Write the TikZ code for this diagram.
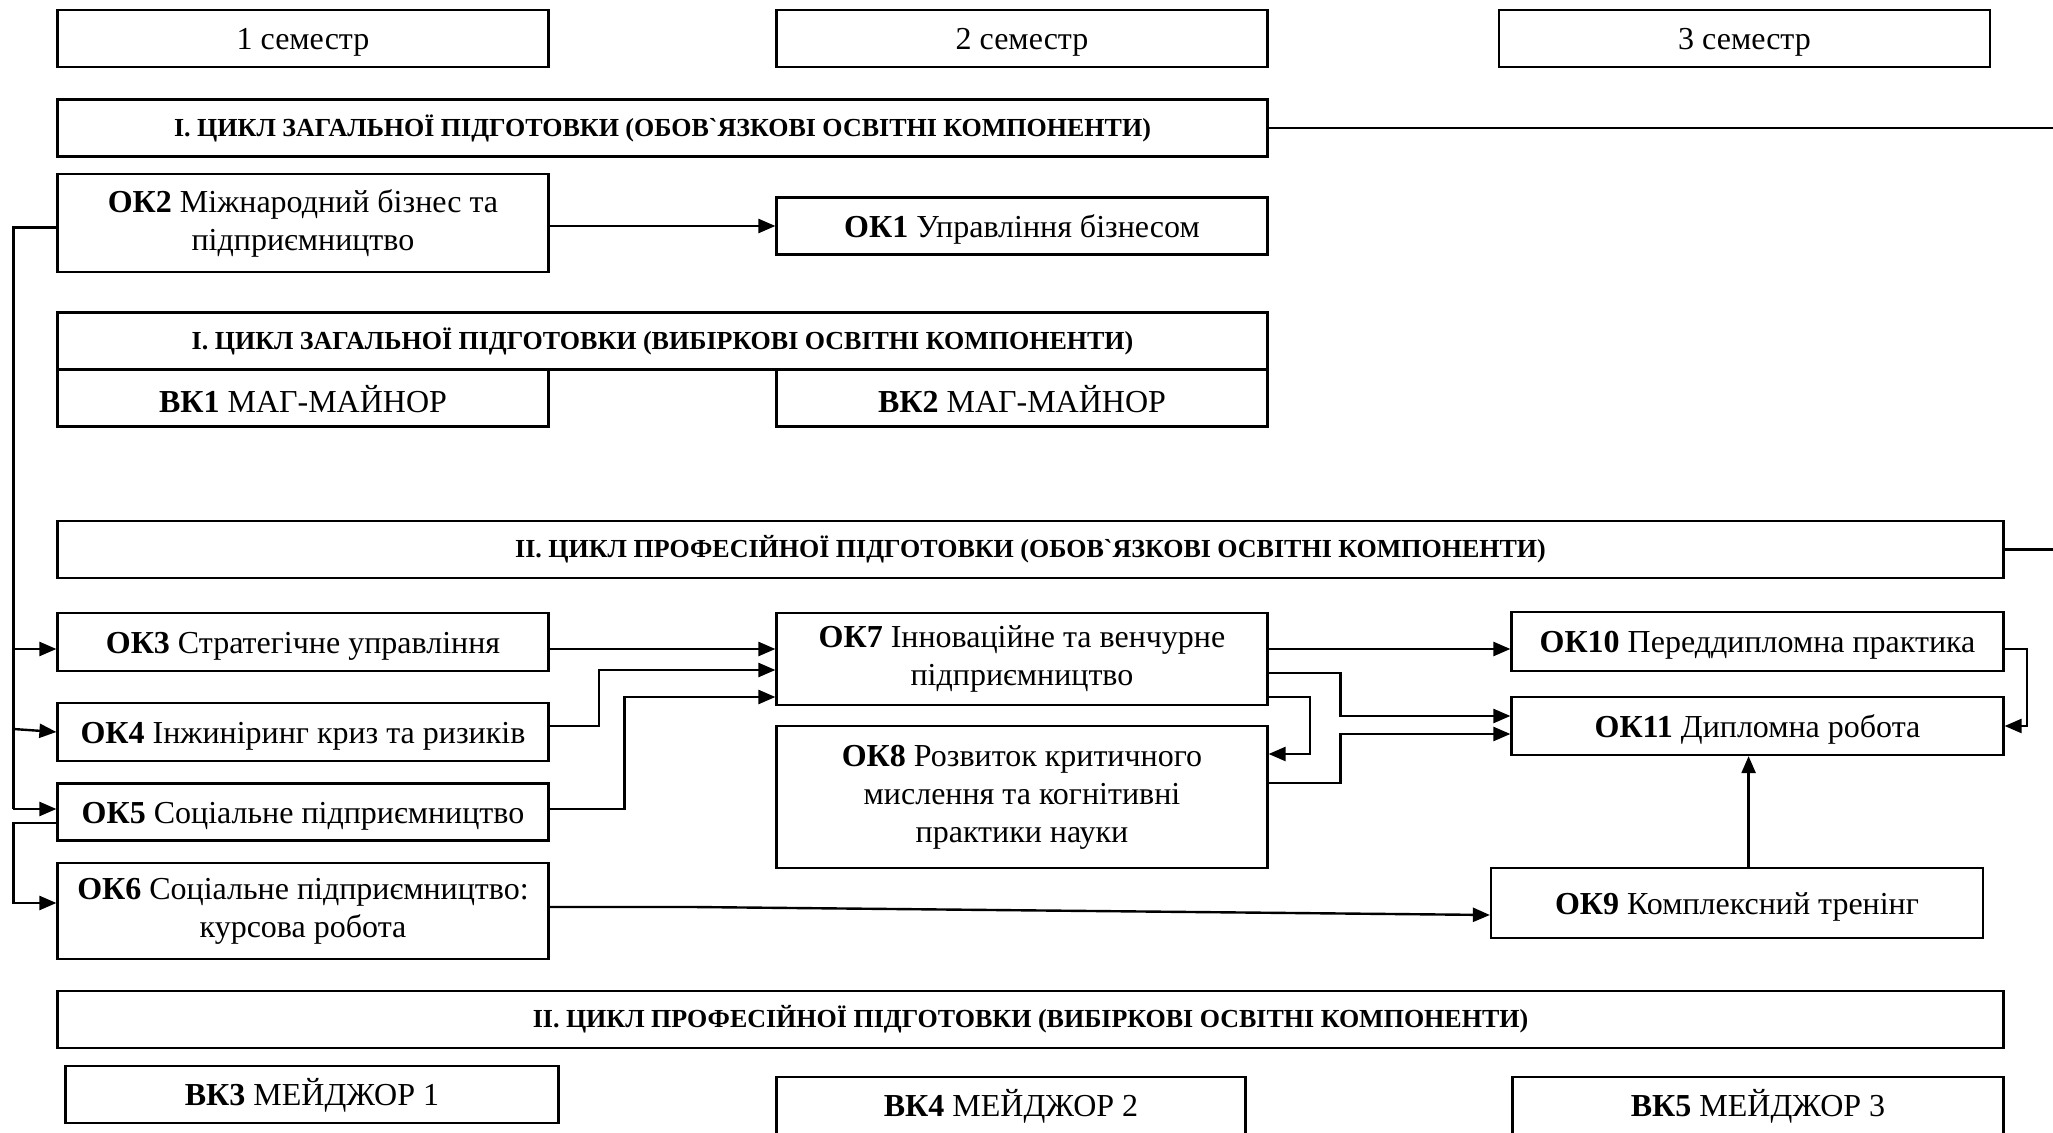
\documentclass[tikz,border=0pt]{standalone}
\usepackage{fontspec}
\setmainfont{Liberation Serif}
\usetikzlibrary{positioning,arrows.meta}
\tikzset{
  frame/.style = {rectangle, draw, line width=1.1pt, align=center,
                  inner sep=2pt, minimum width=245.5pt, minimum height=28.5pt},
  box/.style   = {frame, font=\fontsize{16}{19}\selectfont,
                  execute at begin node={\rule{0pt}{14.5pt}}},
  head/.style  = {frame, font=\fontsize{13}{15}\selectfont\bfseries},
  arr/.style   = {-{Triangle[length=8.5pt,width=7pt]}, line width=1.2pt},
  link/.style  = {line width=1.2pt}
}

\begin{document}
\begin{tikzpicture}[x=0.5pt,y=-0.5pt]
  \useasboundingbox (0,0) rectangle (2053,1133);
  \coordinate (bus) at (13.3,0);
  \coordinate (rim) at (2053,0);
  % semesters
  \node[box] (sem1) at (303,38.6) {1 семестр};
  \node[box] (sem2) at (1022,38.6) {2 семестр};
  \node[box] (sem3) at (1744.5,38.6) {3 семестр};
  % I. general cycle
  \node[head,minimum width=605pt] (hdrA) at (662.5,128) {І. ЦИКЛ ЗАГАЛЬНОЇ ПІДГОТОВКИ (ОБОВ\textasciigrave ЯЗКОВІ ОСВІТНІ КОМПОНЕНТИ)};
  \node[box,minimum height=49pt] (ok2) at (303,223) {\textbf{ОК2} Міжнародний бізнес та\\підприємництво};
  \node[box] (ok1) at (1022,226) {\textbf{ОК1} Управління бізнесом};
  \node[head,minimum width=605pt] (hdrB) at (662.5,341) {І. ЦИКЛ ЗАГАЛЬНОЇ ПІДГОТОВКИ (ВИБІРКОВІ ОСВІТНІ КОМПОНЕНТИ)};
  \node[box] (vk1) at (303,398) {\textbf{ВК1} МАГ-МАЙНОР};
  \node[box] (vk2) at (1022,398) {\textbf{ВК2} МАГ-МАЙНОР};
  % II. professional cycle
  \node[head,minimum width=973pt] (hdrC) at (1030.5,549.5) {ІІ. ЦИКЛ ПРОФЕСІЙНОЇ ПІДГОТОВКИ (ОБОВ\textasciigrave ЯЗКОВІ ОСВІТНІ КОМПОНЕНТИ)};
  \node[box,minimum height=29pt] (ok3) at (303,642) {\textbf{ОК3} Стратегічне управління};
  \node[box,minimum height=29pt] (ok4) at (303,732) {\textbf{ОК4} Інжиніринг криз та ризиків};
  \node[box] (ok5) at (303,812) {\textbf{ОК5} Соціальне підприємництво};
  \node[box,minimum height=48pt] (ok6) at (303,911) {\textbf{ОК6} Соціальне підприємництво:\\курсова робота};
  \node[box,minimum height=46pt] (ok7) at (1022,659) {\textbf{ОК7} Інноваційне та венчурне\\підприємництво};
  \node[box,minimum height=71pt] (ok8) at (1022,797) {\textbf{ОК8} Розвиток критичного\\мислення та когнітивні\\практики науки};
  \node[box,minimum width=246pt,minimum height=29.5pt] (ok10) at (1757.5,641.7) {\textbf{ОК10} Переддипломна практика};
  \node[box,minimum width=246pt,minimum height=29pt] (ok11) at (1757.5,726) {\textbf{ОК11} Дипломна робота};
  \node[box,minimum width=246pt,minimum height=35pt] (ok9) at (1737,903) {\textbf{ОК9} Комплексний тренінг};
  \node[head,minimum width=973pt] (hdrD) at (1030.5,1019.5) {ІІ. ЦИКЛ ПРОФЕСІЙНОЇ ПІДГОТОВКИ (ВИБІРКОВІ ОСВІТНІ КОМПОНЕНТИ)};
  \node[box,minimum width=246.5pt] (vk3) at (312,1094.5) {\textbf{ВК3} МЕЙДЖОР 1};
  \node[box,minimum width=234.5pt] (vk4) at (1011,1105.5) {\textbf{ВК4} МЕЙДЖОР 2};
  \node[box] (vk5) at (1758,1105.5) {\textbf{ВК5} МЕЙДЖОР 3};

  % connectors
  \draw[link] (hdrA.east) -- (hdrA.east -| rim);
  \draw[link] (hdrC.east) -- (hdrC.east -| rim);
  \draw[arr] (ok1.west -| ok2.east) -- (ok1.west);
  \draw[link] ([yshift=-2.3pt]ok2.west) -- ([yshift=-2.3pt]ok2.west -| bus) -- ([yshift=1.5pt]ok5.west -| bus);
  \draw[arr] ([yshift=-3.5pt]ok3.west -| bus) -- ([yshift=-3.5pt]ok3.west);
  \draw[arr] ([yshift=1.5pt]ok4.west -| bus) -- (ok4.west);
  \draw[arr] ([yshift=1.5pt]ok5.west -| bus) -- ([yshift=1.5pt]ok5.west);
  \draw[arr] ([yshift=-5.5pt]ok5.west) -- ([yshift=-5.5pt]ok5.west -| bus) |- ([yshift=4pt]ok6.west);
  \draw[arr] ([yshift=-3.5pt]ok3.east) -- ([yshift=-3.5pt]ok3.east -| ok7.west);
  \draw[arr] ([yshift=3pt]ok4.east) -- ++(49.4,0) |- ([yshift=-5.5pt]ok7.west);
  \draw[arr] ([yshift=1.5pt]ok5.east) -- ++(75,0) |- ([yshift=-19pt]ok7.west);
  \draw[arr] ([yshift=5pt]ok7.east) -- ([yshift=5pt]ok7.east -| ok10.west);
  \draw[arr] ([yshift=-7pt]ok7.east) -- ++(72,0) |- ([yshift=5pt]ok11.west);
  \draw[arr] ([yshift=-19pt]ok7.east) -- ++(41.6,0) |- ([yshift=21.5pt]ok8.east);
  \draw[arr] ([yshift=7pt]ok8.east) -- ++(72,0) |- ([yshift=-4pt]ok11.west);
  \draw[arr] ([yshift=-3.6pt]ok10.east) -- ++(22.5,0) |- (ok11.east);
  \draw[arr] ([xshift=5.8pt]ok9.north) -- ([xshift=5.8pt]ok9.north |- ok11.south);
  \draw[arr] ([yshift=2pt]ok6.east) -- ++(142.4,0) -- ([yshift=-6pt]ok9.west);
\end{tikzpicture}
\end{document}
